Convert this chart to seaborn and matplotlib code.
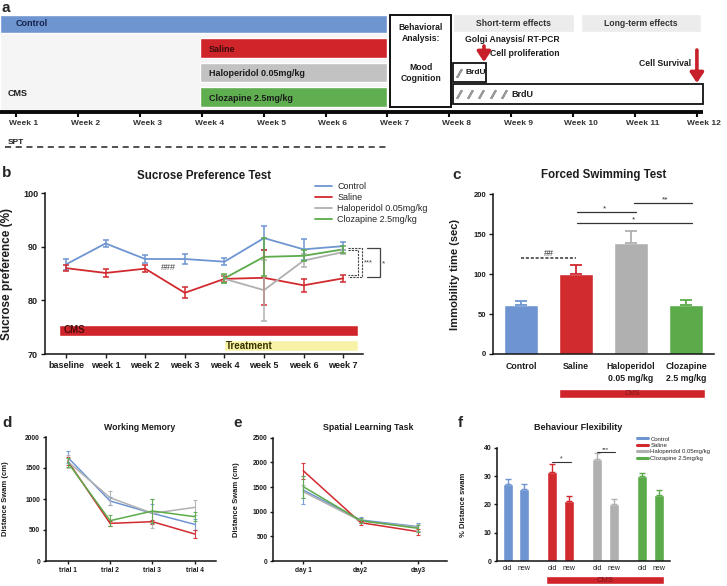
import matplotlib.pyplot as plt
from matplotlib.lines import Line2D
import matplotlib.transforms as mtransforms
import seaborn as sns
import numpy as np
import pandas as pd

# -------------------------
# data
# -------------------------
groups = ["Control", "Saline", "Haloperidol 0.05mg/kg", "Clozapine 2.5mg/kg"]
colors = ["#6e95d2", "#d12a2f", "#b0b0b0", "#5cab4a"]

# a: timeline (weeks)
timeline_weeks = list(range(1, 13))
week_labels = [f"Week {w}" for w in timeline_weeks]
control_end = 7.0
treatment_start, treatment_end = 3.97, 7.0
treatment_labels = ["Saline", "Haloperidol 0.05mg/kg", "Clozapine 2.5mg/kg"]
behaviour_span = (7.05, 8.03)
short_term_span = (8.06, 10.02)
long_term_span = (10.12, 12.07)
brdu_short = [8.16]
brdu_long = [8.16, 8.34, 8.52, 8.71, 8.89]
proliferation_week = 8.56
survival_week = 12.0
spt_span = (0.82, 7.0)

# b: sucrose preference
spt_weeks = ["baseline", "week 1", "week 2", "week 3", "week 4", "week 5", "week 6", "week 7"]
spt_control = [86.7, 90.6, 87.7, 87.7, 87.2, 91.6, 89.5, 90.1]
spt_control_err = [1.0, 0.7, 0.8, 1.0, 0.7, 2.2, 1.9, 0.8]
spt_saline = [86.0, 85.1, 85.9, 81.4, 84.0, 84.2, 82.8, 84.1]
spt_saline_err = [0.6, 0.7, 0.6, 1.0, 0.6, 5.1, 1.2, 0.6]
spt_treat_idx = [4, 5, 6, 7]
spt_halo = [84.0, 81.9, 87.4, 89.0]
spt_halo_err = [0.7, 5.7, 1.2, 0.4]
spt_cloz = [84.1, 88.1, 88.3, 89.5]
spt_cloz_err = [0.9, 3.6, 1.0, 0.7]

# c: forced swimming
fst_labels = ["Control", "Saline", "Haloperidol\n0.05 mg/kg", "Clozapine\n2.5 mg/kg"]
fst_values = [61, 100, 138.6, 61]
fst_err = [6, 12, 16, 6.5]

# d: working memory
trials = ["trial 1", "trial 2", "trial 3", "trial 4"]
wm_values = {
    "Control": [1672, 968, 769, 591],
    "Saline": [1613, 607, 634, 435],
    "Haloperidol 0.05mg/kg": [1602, 1021, 769, 865],
    "Clozapine 2.5mg/kg": [1591, 650, 806, 715],
}
wm_err = {
    "Control": [95, 60, 150, 85],
    "Saline": [60, 40, 30, 70],
    "Haloperidol 0.05mg/kg": [100, 110, 230, 115],
    "Clozapine 2.5mg/kg": [70, 90, 200, 70],
}

# e: spatial learning
days = ["day 1", "day2", "day3"]
sl_values = {
    "Control": [1439, 831, 696],
    "Saline": [1831, 777, 595],
    "Haloperidol 0.05mg/kg": [1405, 811, 682],
    "Clozapine 2.5mg/kg": [1507, 818, 662],
}
sl_err = {
    "Control": [280, 60, 80],
    "Saline": [160, 40, 60],
    "Haloperidol 0.05mg/kg": [130, 50, 70],
    "Clozapine 2.5mg/kg": [220, 50, 70],
}

# f: behaviour flexibility
flex_old = [27.2, 31.3, 36.1, 30.0]
flex_old_err = [1.7, 2.9, 1.9, 1.2]
flex_new = [25.3, 21.3, 20.1, 23.3]
flex_new_err = [1.9, 1.8, 1.8, 1.8]

# -------------------------
# setup
# -------------------------
sns.set_style("ticks")
plt.rcParams["font.family"] = ["Liberation Sans", "DejaVu Sans"]
plt.rcParams["axes.linewidth"] = 1.1
plt.rcParams["axes.edgecolor"] = "#111111"

W, H = 727, 586
fig = plt.figure(figsize=(W / 100, H / 100), dpi=100)
pal = dict(zip(groups, colors))
dark = "#1c1c1c"


def box(l, t, r, b):
    return [l / W, 1 - b / H, (r - l) / W, (b - t) / H]


def ftext(x, y, s, **kw):
    fig.text(x / W, 1 - y / H, s, **kw)


def style_axes(ax, size, bold=True):
    sns.despine(ax=ax)
    ax.tick_params(labelsize=size, length=3, width=1, pad=2, colors=dark)
    for lab in ax.get_xticklabels() + ax.get_yticklabels():
        if bold:
            lab.set_fontweight("bold")


# -------------------------
# a: timeline
# -------------------------
ax = fig.add_axes([0, 1 - 160 / H, 1, 160 / H])
x0 = 1 - 16 / 61.9
ax.set_xlim(x0, 1 + (W - 16) / 61.9)
ax.set_ylim(160, 0)
ax.axis("off")

tcol = ["#d0242b", "#c2c2c2", "#5fae4f"]
ax.barh(71.5, control_end - x0, left=x0, height=77, color="#f5f5f5")
ax.barh(24, control_end - x0, left=x0, height=18, color="#6f95d0")
ax.text(1.0, 24, "Control", fontsize=6.5, fontweight="bold", color="#14234a", va="center")
for i, (lab, c) in enumerate(zip(treatment_labels, tcol)):
    yc = 48 + i * 24.5
    ax.barh(yc, treatment_end - treatment_start, left=treatment_start, height=19.5, color=c)
    ax.text(treatment_start + 0.15, yc + 1, lab, fontsize=6.5, fontweight="bold",
            color="#3a0c0c" if i == 0 else dark, va="center")
ax.text(0.87, 93, "CMS", fontsize=6.5, fontweight="bold", color=dark, va="center")

ax.barh(61, behaviour_span[1] - behaviour_span[0], left=behaviour_span[0], height=92,
        color="white", edgecolor="#111111", lw=1.4)
bx = sum(behaviour_span) / 2
ax.text(bx, 33, "Behavioral\nAnalysis:", fontsize=6.2, fontweight="bold", ha="center",
        va="center", color=dark, linespacing=1.3)
ax.text(bx, 73, "Mood\nCognition", fontsize=6.2, fontweight="bold", ha="center",
        va="center", color=dark, linespacing=1.3)

for span, lab in [(short_term_span, "Short-term effects"), (long_term_span, "Long-term effects")]:
    ax.barh(23, span[1] - span[0], left=span[0], height=18, color="#ececec")
    ax.text(sum(span) / 2, 23, lab, fontsize=6.2, fontweight="bold", ha="center",
            va="center", color="#333333")

ax.text(9.02, 39, "Golgi Anaysis/ RT-PCR", fontsize=6.2, fontweight="bold", ha="center",
        va="center", color=dark)
ax.text(8.66, 53, "Cell proliferation", fontsize=6.2, fontweight="bold", va="center", color=dark)
ax.text(11.9, 63, "Cell Survival", fontsize=6.2, fontweight="bold", ha="right",
        va="center", color=dark)
arrow = dict(arrowstyle="-|>,head_width=0.4,head_length=0.6", lw=2.6, color="#c8202a",
             shrinkA=0, shrinkB=0, mutation_scale=10)
ax.annotate("", xy=(proliferation_week, 62), xytext=(proliferation_week, 46), arrowprops=arrow)
ax.annotate("", xy=(survival_week, 83), xytext=(survival_week, 50), arrowprops=arrow)

ax.barh(72.5, 0.54, left=8.06, height=19, color="white", edgecolor="#111111", lw=1.3)
ax.barh(94, 12.1 - 8.06, left=8.06, height=20, color="white", edgecolor="#111111", lw=1.3)
ax.plot(brdu_short, [72.5] * len(brdu_short), ls="none", marker=(2, 2, -30), ms=7,
        mew=1.5, color="#999999")
ax.plot(brdu_long, [94] * len(brdu_long), ls="none", marker=(2, 2, -30), ms=7,
        mew=1.5, color="#999999")
ax.text(8.26, 73, "BrdU", fontsize=6, fontweight="bold", va="center", color=dark)
ax.text(9.01, 94.5, "BrdU", fontsize=6.5, fontweight="bold", va="center", color=dark)

ax.plot([x0, 12.1], [112, 112], color="#0a0a0a", lw=2.8, solid_capstyle="butt")
ax.plot(timeline_weeks, [114] * 12, ls="none", marker="|", ms=4, mew=1.5, color="#0a0a0a")
for w, lab in zip(timeline_weeks, week_labels):
    ax.text(w + 0.12, 123, lab, fontsize=6, fontweight="bold", ha="center", va="center",
            color="#333333")
ax.text(0.87, 142, "SPT", fontsize=6, fontweight="bold", va="center", color=dark)
ax.plot(spt_span, [147, 147], ls=(0, (4, 3)), lw=1.1, color="#222222")
ftext(2, 1, "a", fontsize=11, fontweight="bold", va="top")

# -------------------------
# b: sucrose preference
# -------------------------
ax = fig.add_axes(box(45, 193, 363, 354))
idx = list(range(len(spt_weeks)))
df_b = pd.concat([
    pd.DataFrame({"idx": idx, "pref": spt_control, "err": spt_control_err, "group": groups[0]}),
    pd.DataFrame({"idx": idx, "pref": spt_saline, "err": spt_saline_err, "group": groups[1]}),
    pd.DataFrame({"idx": spt_treat_idx, "pref": spt_halo, "err": spt_halo_err, "group": groups[2]}),
    pd.DataFrame({"idx": spt_treat_idx, "pref": spt_cloz, "err": spt_cloz_err, "group": groups[3]}),
])
ax.barh(74.4, 7.37 + 0.18, left=-0.18, height=2.0, color="#d0242b")
ax.text(-0.05, 74.4, "CMS", fontsize=7, fontweight="bold", color="#4a0c0c", va="center")
ax.barh(71.6, 7.37 - 4.0, left=4.0, height=2.1, color="#f8f2a8")
ax.text(4.05, 71.5, "Treatment", fontsize=7, fontweight="bold", color="#3a3300", va="center")

sns.lineplot(data=df_b, x="idx", y="pref", hue="group", hue_order=groups, palette=pal,
             lw=1.3, errorbar=None, ax=ax)
for g in groups:
    d = df_b[df_b.group == g]
    ax.errorbar(d.idx, d.pref, yerr=d.err, fmt="none", ecolor=pal[g], elinewidth=1.1,
                capsize=2.5, capthick=1.1)
sns.move_legend(ax, "upper left", bbox_to_anchor=(0.85, 1.07), frameon=False, title=None,
                fontsize=6.5, handlelength=1.9, handletextpad=0.55, labelspacing=0.22,
                borderaxespad=0, borderpad=0)

ax.text(2.58, 86.2, "###", fontsize=6.5, color="#444444", ha="center", va="center")
ax.plot([7.12, 7.47, 7.47, 7.12], [89.8, 89.8, 84.3, 84.3], ls=(0, (2, 1)), lw=0.8,
        color="#444444", clip_on=False)
ax.plot([7.12, 7.37, 7.37, 7.12], [89.3, 89.3, 84.7, 84.7], ls=(0, (2, 1)), lw=0.8,
        color="#444444", clip_on=False)
ax.text(7.64, 86.9, "***", fontsize=5.5, color="#444444", ha="center", va="center")
ax.plot([7.6, 7.93, 7.93, 7.6], [89.8, 89.8, 84.3, 84.3], lw=0.9, color="#444444",
        clip_on=False)
ax.text(8.03, 86.8, "*", fontsize=6, color="#444444", ha="center", va="center")

ax.set_xlim(-0.53, 7.5)
ax.set_ylim(70, 100)
ax.set_yticks([70, 80, 90, 100])
ax.set_xticks(idx)
ax.set_xticklabels(spt_weeks)
ax.set_xlabel("")
ax.set_ylabel("Sucrose preference (%)", fontsize=8.5, fontweight="bold", color=dark)
ax.yaxis.set_label_coords(-0.10, 0.5)
style_axes(ax, 6.5)
ax.set_title("Sucrose Preference Test", fontsize=8.3, fontweight="bold", color=dark,
             y=(354 - 176) / 161, va="center", pad=0)
ftext(2, 166, "b", fontsize=11, fontweight="bold", va="top")

# -------------------------
# c: forced swimming
# -------------------------
ax = fig.add_axes(box(493, 194.3, 714, 354))
sns.barplot(x=groups, y=fst_values, hue=groups, palette=pal, legend=False, width=0.62,
            saturation=1, ax=ax)
for i, g in enumerate(groups):
    ax.errorbar(i, fst_values[i], yerr=[[0], [fst_err[i]]], fmt="none", ecolor=pal[g],
                elinewidth=1.3, capsize=4.5, capthick=1.3)
sig = "#333333"
ax.plot([0, 1], [120, 120], ls=(0, (2, 1.2)), lw=1.1, color=sig)
ax.text(0.5, 126, "##", fontsize=6.5, ha="center", va="center", color=sig)
ax.plot([1.02, 2.09], [178, 178], lw=0.9, color=sig, clip_on=False)
ax.text(1.51, 182, "*", fontsize=6, ha="center", va="center", color=sig)
ax.plot([2.05, 3.11], [189.5, 189.5], lw=0.9, color=sig, clip_on=False)
ax.text(2.62, 193, "**", fontsize=6, ha="center", va="center", color=sig)
ax.plot([1.02, 3.11], [164, 164], lw=0.9, color=sig, clip_on=False)
ax.text(2.05, 168, "*", fontsize=6, ha="center", va="center", color=sig)

ax.set_xlim(-0.51, 3.51)
ax.set_ylim(0, 200)
ax.set_yticks([0, 50, 100, 150, 200])
ax.set_xticks(range(4))
ax.set_xticklabels(fst_labels, linespacing=1.45)
ax.set_ylabel("Immobility time (sec)", fontsize=8, fontweight="bold", color=dark)
ax.yaxis.set_label_coords(-0.15, 0.5)
style_axes(ax, 5.5)
ax.tick_params(axis="x", length=0, pad=6, labelsize=6.3)
trans = mtransforms.blended_transform_factory(ax.transData, ax.transAxes)
ax.barh(-0.247, 3.35 - 0.69, left=0.69, height=0.0565, color="#d0242b", transform=trans,
        clip_on=False)
ax.text(2.02, -0.247, "CMS", fontsize=5, color="#7a1515", ha="center", va="center",
        transform=trans)
ax.set_title("Forced Swimming Test", fontsize=8.3, fontweight="bold", color=dark,
             y=(354 - 175) / 159.7, va="center", pad=0)
ftext(452, 168, "c", fontsize=11, fontweight="bold", va="top")


# -------------------------
# d / e: water maze lines
# -------------------------
def maze_panel(rect, labels, values, errs, ymax, step, title, title_x, ylab_x):
    ax = fig.add_axes(rect)
    rows = []
    for g in groups:
        for i, (v, e) in enumerate(zip(values[g], errs[g])):
            rows.append({"x": i, "dist": v, "err": e, "group": g})
    df = pd.DataFrame(rows)
    sns.lineplot(data=df, x="x", y="dist", hue="group", hue_order=groups, palette=pal,
                 lw=1.1, errorbar=None, legend=False, ax=ax)
    for g in groups:
        d = df[df.group == g]
        ax.errorbar(d.x, d.dist, yerr=d.err, fmt="none", ecolor=pal[g], elinewidth=0.8,
                    capsize=1.2, capthick=0.8, alpha=0.9)
    ax.set_xlim(-0.52, len(labels) - 0.5)
    ax.set_ylim(0, ymax)
    ax.set_yticks(np.arange(0, ymax + 1, step))
    ax.set_xticks(range(len(labels)))
    ax.set_xticklabels(labels)
    ax.set_xlabel("")
    ax.set_ylabel("Distance Swam (cm)", fontsize=5.5, fontweight="bold", color=dark)
    ax.yaxis.set_label_coords(ylab_x, 0.5)
    style_axes(ax, 4.8)
    ax.tick_params(length=2)
    ftext(title_x, 427, title, fontsize=6.3, fontweight="bold", ha="center", va="center",
          color=dark)
    return ax


maze_panel(box(45.7, 437, 216, 561), trials, wm_values, wm_err, 2000, 500,
           "Working Memory", 140, -0.213)
ftext(2, 416, "d", fontsize=11, fontweight="bold", va="top")
maze_panel(box(273.3, 437.7, 447, 561), days, sl_values, sl_err, 2500, 500,
           "Spatial Learning Task", 368, -0.192)
ftext(233, 416, "e", fontsize=11, fontweight="bold", va="top")

# -------------------------
# f: behaviour flexibility
# -------------------------
ax = fig.add_axes(box(497, 447.7, 670, 561))
pos, vals, errs, bar_group, tick_lab = [], [], [], [], []
for gi, g in enumerate(groups):
    for k, (v, e, lab) in enumerate([(flex_old[gi], flex_old_err[gi], "old"),
                                     (flex_new[gi], flex_new_err[gi], "new")]):
        pos.append(gi * 2.68 + k)
        vals.append(v)
        errs.append(e)
        bar_group.append(g)
        tick_lab.append(lab)
sns.barplot(x=pos, y=vals, hue=bar_group, hue_order=groups, palette=pal, native_scale=True,
            width=0.6, dodge=False, legend=False, saturation=1, ax=ax)
for p, v, e, g in zip(pos, vals, errs, bar_group):
    ax.errorbar(p, v, yerr=[[0], [e]], fmt="none", ecolor=pal[g], elinewidth=1,
                capsize=2.5, capthick=1)
ax.plot([2.68, 3.78], [35.1, 35.1], lw=0.8, color=sig)
ax.text(3.2, 36.0, "*", fontsize=5, ha="center", va="center", color=sig)
ax.plot([5.36, 6.4], [38.6, 38.6], lw=0.8, color=sig, clip_on=False)
ax.text(5.88, 39.4, "***", fontsize=4.5, ha="center", va="center", color=sig)

ax.set_xlim(-0.64, 9.72)
ax.set_ylim(0, 40)
ax.set_yticks([0, 10, 20, 30, 40])
ax.set_xticks(pos)
ax.set_xticklabels(tick_lab)
ax.set_ylabel("% Distance swam", fontsize=5.5, fontweight="bold", color=dark)
ax.yaxis.set_label_coords(-0.173, 0.5)
style_axes(ax, 5)
ax.tick_params(axis="y", length=2)
ax.tick_params(axis="x", length=0, pad=3)
for lab in ax.get_xticklabels():
    lab.set_fontweight("normal")
handles = [Line2D([], [], color=c, lw=2.2) for c in colors]
ax.legend(handles, groups, loc="upper left", bbox_to_anchor=(0.807, 1.10), frameon=False,
          fontsize=4.3, handlelength=1.9, handletextpad=0.4, labelspacing=0.2,
          borderaxespad=0, borderpad=0)
trans = mtransforms.blended_transform_factory(ax.transData, ax.transAxes)
ax.barh(-0.168, 9.38 - 2.28, left=2.28, height=0.076, color="#d0242b", transform=trans,
        clip_on=False)
ax.text(5.83, -0.168, "CMS", fontsize=5.5, color="#7a1515", ha="center", va="center",
        transform=trans)
ftext(578, 427, "Behaviour Flexibility", fontsize=6.5, fontweight="bold", ha="center",
      va="center", color=dark)
ftext(458, 416, "f", fontsize=11, fontweight="bold", va="top")

fig.savefig("out.png", dpi=100)
